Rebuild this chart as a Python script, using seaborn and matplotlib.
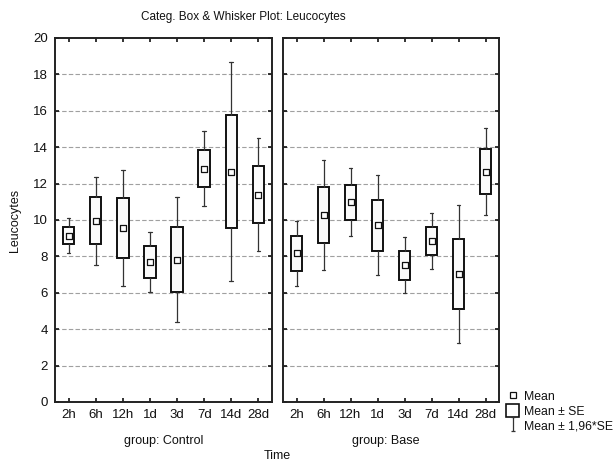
import numpy as np
import pandas as pd
import matplotlib
matplotlib.use("Agg")
import matplotlib.pyplot as plt
import seaborn as sns
from matplotlib.lines import Line2D
from matplotlib.patches import Patch
from matplotlib.path import Path

sns.set_theme(style="white")
plt.rcParams['font.family'] = ['Liberation Sans', 'DejaVu Sans']

times = ["2h", "6h", "12h", "1d", "3d", "7d", "14d", "28d"]
groups = ["Control", "Base"]

# Control group
ctrl_mean = [9.14, 9.96, 9.56, 7.69, 7.80, 12.82, 12.66, 11.39]
ctrl_box_lo = [8.66, 8.68, 7.91, 6.79, 6.04, 11.81, 9.58, 9.85]
ctrl_box_hi = [9.63, 11.28, 11.21, 8.55, 9.60, 13.83, 15.75, 12.97]
ctrl_wh_lo = [8.17, 7.55, 6.39, 6.03, 4.38, 10.77, 6.63, 8.31]
ctrl_wh_hi = [10.13, 12.38, 12.75, 9.36, 11.25, 14.87, 18.70, 14.49]

# Base group
base_mean = [8.17, 10.29, 10.99, 9.73, 7.53, 8.85, 7.03, 12.66]
base_box_lo = [7.22, 8.75, 10.00, 8.31, 6.72, 8.06, 5.11, 11.43]
base_box_hi = [9.12, 11.83, 11.94, 11.12, 8.31, 9.63, 8.96, 13.88]
base_wh_lo = [6.37, 7.27, 9.14, 6.98, 5.97, 7.31, 3.26, 10.27]
base_wh_hi = [9.95, 13.30, 12.84, 12.47, 9.08, 10.37, 10.81, 15.05]

yticks = list(range(0, 21, 2))

rows = []
for g, m, bl, bh, wl, wh in [
    ("Control", ctrl_mean, ctrl_box_lo, ctrl_box_hi, ctrl_wh_lo, ctrl_wh_hi),
    ("Base", base_mean, base_box_lo, base_box_hi, base_wh_lo, base_wh_hi),
]:
    for i, t in enumerate(times):
        rows.append(dict(group=g, time=t, pos=i, mean=m[i], box_lo=bl[i],
                         box_hi=bh[i], wh_lo=wl[i], wh_hi=wh[i]))
df = pd.DataFrame(rows)

fig = plt.figure(figsize=(6.13, 4.63), dpi=100)
W, H = 613, 463
def axrect(x0, x1, y0, y1):
    return [x0 / W, 1 - y1 / H, (x1 - x0) / W, (y1 - y0) / H]

ax1 = fig.add_axes(axrect(55, 272, 38, 402))
ax2 = fig.add_axes(axrect(283, 499, 38, 402), sharey=ax1)

for ax, g in [(ax1, "Control"), (ax2, "Base")]:
    sub = df[df.group == g]
    for y in yticks[1:-1]:
        ax.axhline(y, color="#a0a0a0", lw=0.8, ls=(0, (4, 2)), zorder=0)
    stats = []
    for _, r in sub.iterrows():
        stats.append(dict(med=r["mean"], q1=r["box_lo"], q3=r["box_hi"],
                          whislo=r["wh_lo"], whishi=r["wh_hi"], fliers=[]))
    ax.bxp(stats, positions=sub["pos"].tolist(), widths=0.42, showfliers=False,
           patch_artist=True,
           boxprops=dict(facecolor="#fbfbfb", edgecolor="#111111", lw=1.4),
           whiskerprops=dict(color="#333333", lw=0.9),
           capprops=dict(color="#333333", lw=0.9),
           medianprops=dict(visible=False),
           capwidths=0.14, manage_ticks=False, zorder=2)
    sns.scatterplot(data=sub, x="pos", y="mean", ax=ax, marker="s", s=22,
                    facecolor="white", edgecolor="#111111", linewidth=0.9,
                    zorder=3, legend=False)
    ax.set_xlim(-0.5, 7.5)
    ax.set_ylim(0, 20)
    ax.set_xticks(range(len(times)))
    ax.set_xticklabels(times, fontsize=9.5)
    ax.set_yticks(yticks)
    ax.set_xlabel("")
    ax.set_ylabel("")
    ax.tick_params(axis="both", direction="in", length=3, width=1.2,
                   color="#111111", top=True, right=True, bottom=True, left=True,
                   pad=5, labelsize=9.5, labelcolor="#111111")
    for s in ax.spines.values():
        s.set_color("#222222")
        s.set_linewidth(1.4)
        s.set_visible(True)

ax1.set_yticklabels([str(v) for v in yticks], fontsize=9.5)
plt.setp(ax2.get_yticklabels(), visible=False)

fig.text(243 / W, 1 - 17 / H, "Categ. Box & Whisker Plot: Leucocytes",
         ha="center", va="center", fontsize=8.5, color="#111111")
fig.text(15 / W, 1 - 220 / H, "Leucocytes", rotation=90, ha="center",
         va="center", fontsize=9, color="#111111")
fig.text(164 / W, 1 - 441 / H, "group: Control", ha="center", va="center",
         fontsize=9, color="#111111")
fig.text(386 / W, 1 - 441 / H, "group: Base", ha="center", va="center",
         fontsize=9, color="#111111")
fig.text(277 / W, 1 - 456 / H, "Time", ha="center", va="center", fontsize=9,
         color="#111111")

whisk_path = Path([(-0.35, -1), (0.35, -1), (0, -1), (0, 1), (-0.35, 1), (0.35, 1)],
                  [Path.MOVETO, Path.LINETO, Path.MOVETO, Path.LINETO,
                   Path.MOVETO, Path.LINETO])
handles = [
    Line2D([], [], marker="s", ls="none", mfc="white", mec="#111111", ms=4.5,
           mew=0.9),
    Patch(facecolor="white", edgecolor="#111111", lw=1.2),
    Line2D([], [], marker=whisk_path, ls="none", mec="#333333", ms=10, mew=0.9),
]
leg = fig.legend(handles, ["Mean", "Mean ± SE", "Mean ± 1,96*SE"],
                 loc="upper left", bbox_to_anchor=(504 / W, 1 - 387 / H),
                 frameon=False, fontsize=8.8, handlelength=1.0,
                 handleheight=1.2, handletextpad=0.4, labelspacing=0.12,
                 borderpad=0.2, borderaxespad=0)
for t in leg.get_texts():
    t.set_color("#111111")

fig.savefig("out.png", dpi=100)
